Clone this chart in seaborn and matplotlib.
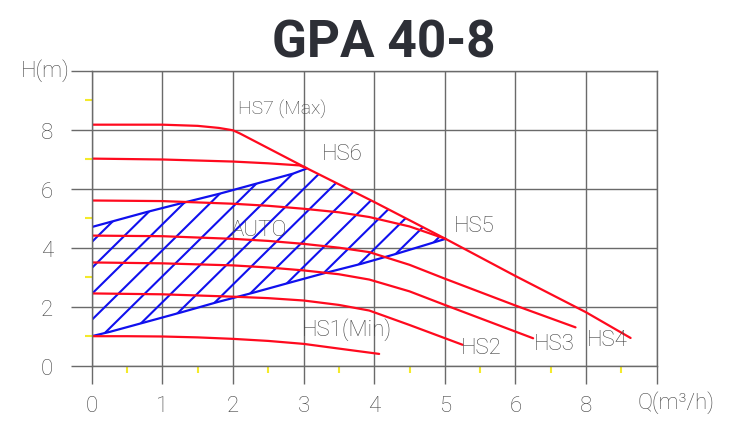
import numpy as np
import pandas as pd
import matplotlib.pyplot as plt
import seaborn as sns
from matplotlib.patches import Polygon

# pump curves (Q in grid units, H in m)
hs1_q = [0, 0.5, 1, 1.5, 2, 2.5, 3, 3.5, 4.07]
hs1_h = [1.0, 1.0, 0.99, 0.96, 0.91, 0.84, 0.74, 0.58, 0.40]
hs2_q = [0, 1, 2, 2.5, 3, 3.5, 3.93, 4.5, 5.25]
hs2_h = [2.45, 2.42, 2.34, 2.29, 2.21, 2.06, 1.87, 1.38, 0.71]
hs3_q = [0, 1, 2, 2.5, 3, 3.5, 3.93, 4.5, 5, 6.25]
hs3_h = [3.5, 3.47, 3.40, 3.33, 3.23, 3.10, 2.92, 2.52, 2.06, 0.93]
hs4_q = [0, 1, 2, 2.5, 3, 3.5, 3.93, 4.5, 5, 6, 6.85]
hs4_h = [4.41, 4.39, 4.30, 4.23, 4.13, 4.00, 3.85, 3.42, 2.95, 2.04, 1.30]
hs5_q = [0, 1, 2, 2.5, 3, 3.5, 3.93, 4.5, 5.01]
hs5_h = [5.6, 5.58, 5.49, 5.42, 5.32, 5.20, 5.04, 4.72, 4.30]
hs6_q = [0, 1, 2, 2.5, 2.94, 3.04]
hs6_h = [7.02, 6.99, 6.92, 6.86, 6.79, 6.70]
hs7_q = [0, 1, 1.5, 1.8, 2.0, 2.1, 3.04, 4, 5.01, 6, 7, 7.63]
hs7_h = [8.17, 8.17, 8.13, 8.06, 7.98, 7.87, 6.70, 5.55, 4.30, 3.04, 1.81, 0.94]

# AUTO region borders
auto_top_q = [0, 0.26, 0.78, 1.29, 1.81, 2.33, 2.85, 3.04]
auto_top_h = [4.7, 4.87, 5.21, 5.52, 5.83, 6.17, 6.51, 6.68]
auto_bot_q = [0, 0.26, 0.75, 1.27, 1.77, 2.28, 2.78, 3.3, 3.81, 4.31, 5.01]
auto_bot_h = [1.0, 1.15, 1.47, 1.81, 2.15, 2.47, 2.80, 3.14, 3.45, 3.79, 4.30]

curves = {"HS1": (hs1_q, hs1_h), "HS2": (hs2_q, hs2_h), "HS3": (hs3_q, hs3_h),
          "HS4": (hs4_q, hs4_h), "HS5": (hs5_q, hs5_h), "HS6": (hs6_q, hs6_h),
          "HS7": (hs7_q, hs7_h)}

x_ticks = [0, 1, 2, 3, 4, 5, 6, 7, 8]
x_labels = ["0", "1", "2", "3", "4", "5", "6", "8", ""]
y_ticks = [0, 2, 4, 6, 8, 10]
y_labels = ["0", "2", "4", "6", "8", ""]

labels = ["HS7 (Max)", "HS6", "HS5", "AUTO", "HS1(Min)", "HS2", "HS3", "HS4"]
label_q = [2.70, 3.55, 5.42, 2.37, 3.62, 5.51, 6.55, 7.30]
label_h = [8.72, 7.20, 4.74, 4.60, 1.25, 0.61, 0.76, 0.90]

sns.set_theme(style="white")
plt.rcParams["font.family"] = ["Roboto", "DejaVu Sans"]

grey = "#6a6a6a"
txt = "#444444"

fig = plt.figure(figsize=(7.45, 4.35), dpi=100)
ax = fig.add_axes([0.1231, 0.157, 0.7584, 0.6782])

# hatched AUTO area
edge_q = [q for q in hs7_q if 3.04 <= q <= 5.01]
edge_h = [h for q, h in zip(hs7_q, hs7_h) if 3.04 <= q <= 5.01]
poly_pts = list(zip(auto_top_q, auto_top_h)) + list(zip(edge_q, edge_h)) + \
    list(zip(auto_bot_q[::-1], auto_bot_h[::-1]))
poly = Polygon(poly_pts, closed=True, facecolor="none", edgecolor="none")
ax.add_patch(poly)
hx = np.array([-0.5, 5.5])
for k in range(15):
    c = 4.19 - 0.88 * k
    ln, = ax.plot(hx, 2.36 * hx + c, color="#1010ee", lw=1.5)
    ln.set_clip_path(poly)

sns.lineplot(x=auto_top_q, y=auto_top_h, color="#1010ee", lw=1.6, sort=False,
             estimator=None, ax=ax)
sns.lineplot(x=auto_bot_q, y=auto_bot_h, color="#1010ee", lw=1.6, sort=False,
             estimator=None, ax=ax)

for name, (q, h) in curves.items():
    sns.lineplot(x=q, y=h, color="#ff0a1e", lw=1.6, sort=False, estimator=None, ax=ax)

ax.set_xlim(0, 8)
ax.set_ylim(0, 10)
ax.set_xticks(x_ticks)
ax.set_xticklabels(x_labels, fontweight="light")
ax.set_yticks(y_ticks)
ax.set_yticklabels(y_labels, fontweight="light")
ax.set_xticks(np.arange(0.5, 8, 1), minor=True)
ax.set_yticks([1, 3, 5, 7, 9], minor=True)
ax.tick_params(axis="x", which="major", length=13, width=1, color=grey, pad=8,
               labelsize=16, labelcolor=txt, direction="out", bottom=True)
ax.tick_params(axis="y", which="major", length=15, width=1, color=grey, pad=13,
               labelsize=16, labelcolor=txt, direction="out", left=True)
ax.tick_params(which="minor", length=5, width=1.5, color="#f4ea2a", direction="out",
               bottom=True, left=True)
ax.grid(True, which="major", color=grey, lw=1)
for s in ax.spines.values():
    s.set_color(grey)
    s.set_linewidth(1)
ax.set_xlabel("")
ax.set_ylabel("")

for t, q, h in zip(labels, label_q, label_h):
    ax.text(q, h, t, ha="center", va="center", fontsize=16 if t != "HS7 (Max)" else 14,
            color=txt, fontweight="light")

ax.text(8.27, -1.23, "Q(m³/h)", ha="center", va="center", fontsize=16, color=txt,
        clip_on=False, fontweight="light")
ax.text(-0.31, 10.04, "H(m)", ha="right", va="center", fontsize=16, color=txt,
        clip_on=False, fontweight="light")

fig.text(384 / 745, 1 - 57 / 435, "GPA 40-8", ha="center", va="baseline",
         fontsize=37, weight="bold", color="#2d2f36")

fig.savefig("out.png", dpi=100)
